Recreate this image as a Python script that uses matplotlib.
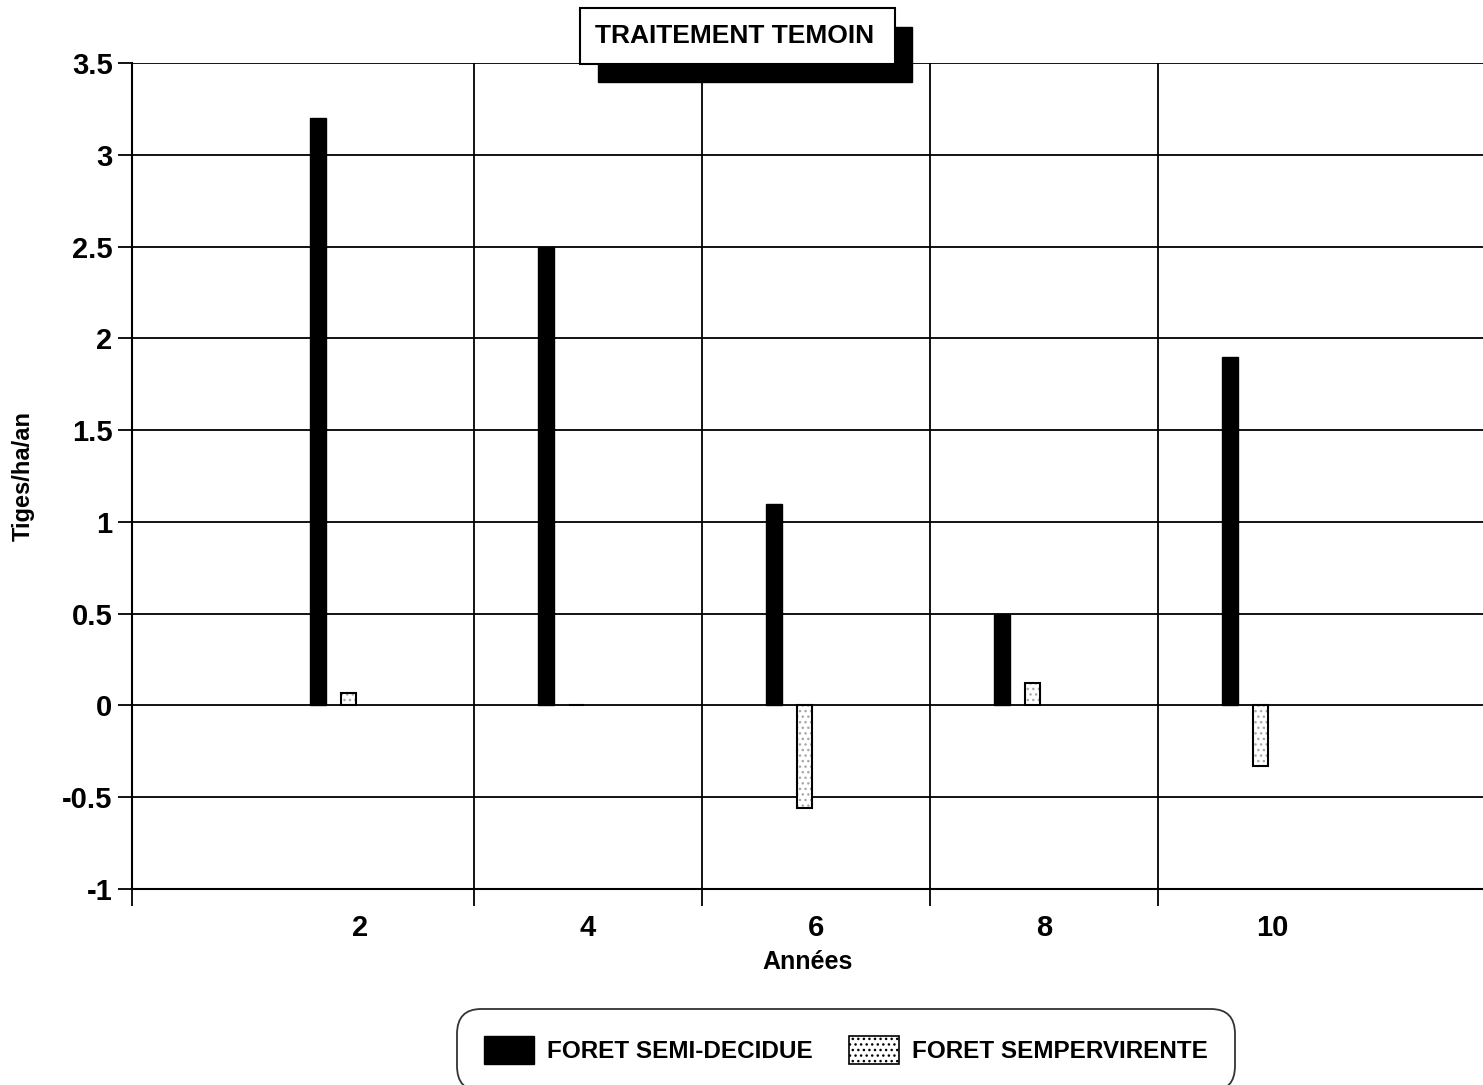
import matplotlib
matplotlib.use('Agg')
import numpy as np
import matplotlib.pyplot as plt
from matplotlib.patches import Rectangle, Patch

plt.rcParams['font.family'] = ['Liberation Sans', 'DejaVu Sans']
plt.rcParams['font.weight'] = 'bold'
plt.rcParams['hatch.linewidth'] = 1.0

# données
annees = [2, 4, 6, 8, 10]
semi_decidue = [3.2, 2.5, 1.1, 0.5, 1.9]
sempervirente = [0.07, 0.0, -0.56, 0.12, -0.33]
series = ['FORET SEMI-DECIDUE', 'FORET SEMPERVIRENTE']
titre = 'TRAITEMENT TEMOIN'

fig = plt.figure(figsize=(14.83, 10.85), dpi=100)
ax = fig.add_axes([0.089, 0.1806, 0.911, 0.7613])

x = np.array(annees, dtype=float)
w = 0.135
ax.bar(x - 0.37, semi_decidue, w, color='black', edgecolor='black', zorder=3)
# trame pointillée grise puis contour noir
ax.bar(x - 0.10, sempervirente, w, color='white', edgecolor='#a8a8a8',
       linewidth=0, hatch='...', zorder=3)
ax.bar(x - 0.10, sempervirente, w, color='none', edgecolor='black',
       linewidth=1.5, zorder=4)

ax.set_xlim(0, 11.85)
ax.set_ylim(-1, 3.5)
ax.set_yticks(np.arange(-1, 3.51, 0.5))
ax.set_yticklabels(['-1', '-0.5', '0', '0.5', '1', '1.5', '2', '2.5', '3', '3.5'])
ax.set_xticks(annees)
ax.set_xticklabels([str(a) for a in annees])
ax.set_xticks([0, 3, 5, 7, 9], minor=True)

ax.tick_params(axis='y', direction='out', length=10, width=1.3, labelsize=21, pad=4)
ax.tick_params(axis='x', which='major', length=0, labelsize=21, pad=18)
ax.tick_params(axis='x', which='minor', direction='out', length=12, width=1.3)

ax.grid(axis='y', which='major', color='black', linewidth=1.3, zorder=1)
ax.grid(axis='x', which='minor', color='black', linewidth=1.3, zorder=1)
ax.set_axisbelow(True)

for s in ['top', 'right']:
    ax.spines[s].set_visible(False)
ax.spines['left'].set_linewidth(1.5)
ax.spines['bottom'].set_linewidth(1.5)

ax.set_xlabel('Années', fontsize=18, fontweight='bold', labelpad=6)
ax.set_ylabel('Tiges/ha/an', fontsize=17, fontweight='bold', labelpad=20)

# cadre du titre avec ombre portée
W, H = 1483.0, 1085.0
def fig_rect(x0, y0, x1, y1, **kw):
    return Rectangle((x0 / W, 1 - y1 / H), (x1 - x0) / W, (y1 - y0) / H,
                     transform=fig.transFigure, **kw)

fig.add_artist(fig_rect(598, 27, 912, 82, facecolor='black', edgecolor='black', zorder=10))
fig.add_artist(fig_rect(580, 8, 895, 64, facecolor='white', edgecolor='black',
                        linewidth=1.5, zorder=11))
fig.text(735 / W, 1 - 36 / H, titre, ha='center', va='center', fontsize=19,
         fontweight='bold', zorder=12)

handles = [Patch(facecolor='black', edgecolor='black'),
           Patch(facecolor='white', edgecolor='black', hatch='...', linewidth=1.2)]
leg = fig.legend(handles, series, loc='center', bbox_to_anchor=(846 / W, 1 - 1050 / H),
                 ncol=2, frameon=True, fancybox=True,
                 handlelength=2.05, handleheight=1.4, handletextpad=0.55,
                 columnspacing=1.5, borderpad=1.1, prop={'weight': 'bold', 'size': 17.5})
leg.get_frame().set_edgecolor('black')
leg.get_frame().set_linewidth(1.3)
leg.get_frame().set_boxstyle('round', pad=0, rounding_size=1.0)

fig.savefig('out.png', dpi=100)
